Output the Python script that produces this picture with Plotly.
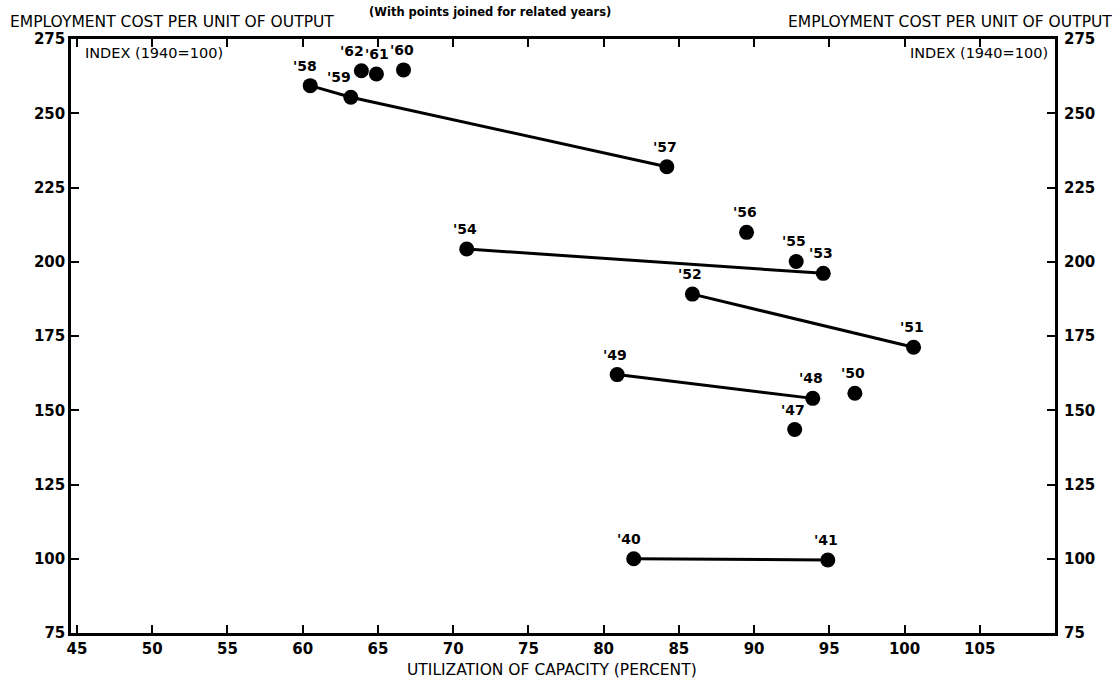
import plotly.graph_objects as go

# ---- data ----
years = ["'40", "'41", "'47", "'48", "'49", "'50", "'51", "'52", "'53",
         "'54", "'55", "'56", "'57", "'58", "'59", "'60", "'61", "'62"]
utilization = [82.0, 94.9, 92.7, 93.9, 80.9, 96.7, 100.6, 85.9, 94.6,
               70.9, 92.8, 89.5, 84.2, 60.5, 63.2, 66.7, 64.9, 63.9]
cost_index = [100.0, 99.6, 143.5, 154.0, 162.0, 155.7, 171.2, 189.1, 196.1,
              204.3, 200.1, 209.9, 232.0, 259.3, 255.4, 264.6, 263.2, 264.3]
joined_groups = [["'58", "'59", "'57"], ["'54", "'53"], ["'52", "'51"],
                 ["'49", "'48"], ["'40", "'41"]]
x_ticks = [45, 50, 55, 60, 65, 70, 75, 80, 85, 90, 95, 100, 105]
y_ticks = [75, 100, 125, 150, 175, 200, 225, 250, 275]

# label placement tweaks (pixels) for the crowded late-50s cluster
label_xshift = {"'58": -5, "'59": -12, "'62": -9, "'61": 1, "'40": -5}

FONT = "DejaVu Sans"
idx = {yr: i for i, yr in enumerate(years)}

fig = go.Figure()
for grp in joined_groups:
    fig.add_trace(go.Scatter(
        x=[utilization[idx[g]] for g in grp],
        y=[cost_index[idx[g]] for g in grp],
        mode="lines", line=dict(color="black", width=3),
        showlegend=False, hoverinfo="skip"))

fig.add_trace(go.Scatter(
    x=utilization, y=cost_index, mode="markers",
    marker=dict(color="black", size=15),
    showlegend=False, hoverinfo="skip"))

# invisible trace for the right-hand axis
fig.add_trace(go.Scatter(x=[None], y=[None], yaxis="y2", showlegend=False))

for yr, xv, yv in zip(years, utilization, cost_index):
    fig.add_annotation(x=xv, y=yv, text=yr, showarrow=False,
                       yshift=20, xshift=label_xshift.get(yr, -2),
                       font=dict(family=FONT, size=14, color="black", weight="bold"))

tickfont = dict(family=FONT, size=15, color="black", weight="bold")
fig.update_layout(
    width=1120, height=682,
    margin=dict(l=71, r=65, t=39, b=49),
    paper_bgcolor="white", plot_bgcolor="white",
    xaxis=dict(range=[44.6, 110], tickvals=x_ticks, ticks="inside", ticklen=8,
               tickwidth=2, tickcolor="black", showline=True, linewidth=2.5,
               linecolor="black", mirror="ticks", showgrid=False, zeroline=False,
               tickfont=tickfont),
    yaxis=dict(range=[75, 275], tickvals=y_ticks, ticks="inside", ticklen=8,
               tickwidth=2, tickcolor="black", showline=True, linewidth=2.5,
               linecolor="black", mirror="ticks", showgrid=False, zeroline=False,
               tickfont=tickfont),
    yaxis2=dict(range=[75, 275], tickvals=y_ticks, overlaying="y", side="right",
                ticks="", showline=False, showgrid=False, zeroline=False,
                ticklabelstandoff=8, tickfont=tickfont),
)

hdr = dict(family=FONT, size=15.5, color="black")
small = dict(family=FONT, size=14.5, color="black")
fig.add_annotation(xref="paper", yref="paper", x=-0.064, y=1.0286,
                   xanchor="left", yanchor="middle",
                   text="EMPLOYMENT COST PER UNIT OF OUTPUT", showarrow=False, font=hdr)
fig.add_annotation(xref="paper", yref="paper", x=1.060, y=1.0286,
                   xanchor="right", yanchor="middle",
                   text="EMPLOYMENT COST PER UNIT OF OUTPUT", showarrow=False, font=hdr)
fig.add_annotation(xref="paper", yref="paper", x=0.426, y=1.0455,
                   xanchor="center", yanchor="middle",
                   text="(With points joined for related years)", showarrow=False,
                   font=dict(family=FONT, size=11.5, color="black", weight="bold"))
fig.add_annotation(xref="paper", yref="paper", x=0.012, y=0.976,
                   xanchor="left", yanchor="middle",
                   text="INDEX (1940=100)", showarrow=False, font=small)
fig.add_annotation(xref="paper", yref="paper", x=0.995, y=0.976,
                   xanchor="right", yanchor="middle",
                   text="INDEX (1940=100)", showarrow=False, font=small)
fig.add_annotation(xref="paper", yref="paper", x=0.489, y=-0.0623,
                   xanchor="center", yanchor="middle",
                   text="UTILIZATION OF CAPACITY (PERCENT)", showarrow=False,
                   font=dict(family=FONT, size=15.5, color="black"))

fig.write_html("out.html", config={"displayModeBar": False})

# remove the browser's default 8px body margin so the figure sits at (0, 0)
with open("out.html", encoding="utf-8") as f:
    html = f.read()
html = html.replace("<head>", "<head><style>html,body{margin:0;padding:0;overflow:hidden;}</style>", 1)
with open("out.html", "w", encoding="utf-8") as f:
    f.write(html)
